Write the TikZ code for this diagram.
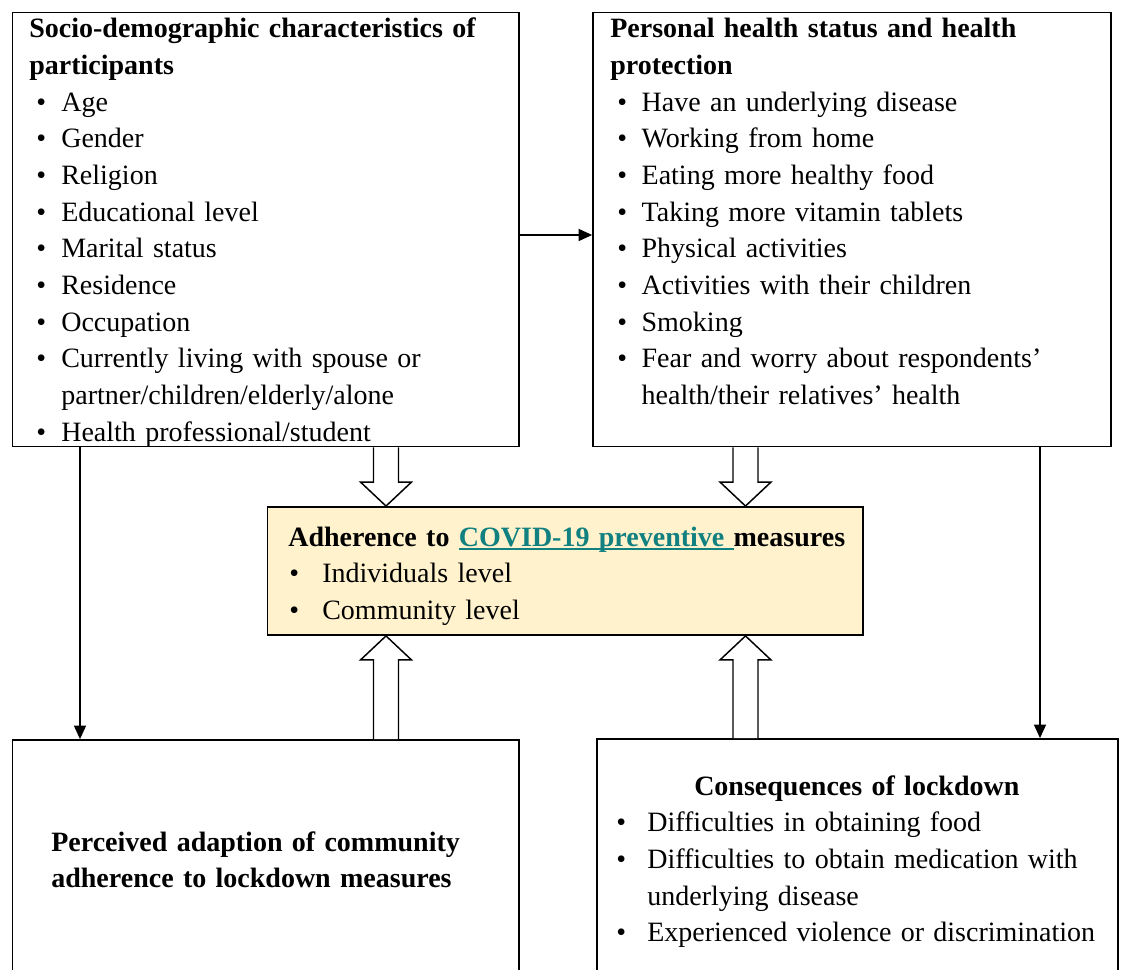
\documentclass[tikz,border=0pt]{standalone}
\usepackage{fontspec}
\setmainfont{Liberation Serif}
\usepackage{xcolor}
\usetikzlibrary{fit,arrows.meta}

\definecolor{notefill}{RGB}{255,242,204}
\definecolor{linkteal}{RGB}{16,128,128}

\newlength\bulx
\newlength\itemx
\newcommand\bitem[1]{\par\noindent\hangindent=\itemx\hangafter=1%
  \makebox[\itemx][l]{\hspace*{\bulx}\textbullet}#1}
\newcommand\linktxt[1]{\textcolor{linkteal}{\setbox0\hbox{#1}%
  \rlap{\rule[-2.6pt]{\wd0}{1pt}}\box0}}

% tail, tip, direction (1 = down, -1 = up)
\newcommand\blockarrow[3]{%
  \draw[hollow] ([shift={(-12.5,0)}]#1) -- ([shift={(-12.5,{-24*#3})}]#2)
    -- ([shift={(-25.5,{-24*#3})}]#2) -- (#2)
    -- ([shift={(25.5,{-24*#3})}]#2) -- ([shift={(12.5,{-24*#3})}]#2)
    -- ([shift={(12.5,0)}]#1);}

\begin{document}
\begin{tikzpicture}[x=0.75pt,y=-0.75pt,
    box/.style={draw, line width=1.4pt, inner sep=0pt},
    txt/.style={inner sep=0pt, anchor=north west, align=left,
      font=\fontsize{21}{27.5}\selectfont},
    thinarrow/.style={draw, line width=0.8pt, -{Triangle[length=10pt,width=9pt]}},
    hollow/.style={draw, line width=1.1pt, fill=white, line join=miter}]

    \useasboundingbox (0,0) rectangle (1121,970);

    \node[box, fit={(12.5,12.5) (519,446.5)}] (A) {};
    \node[box, fit={(593,12.5) (1111,446.5)}] (B) {};
    \node[box, fill=notefill, fit={(267.5,507) (863,635)}] (C) {};
    \node[box, fit={(12.5,740) (519,1000)}] (D) {};
    \node[box, fit={(597,739) (1118,1000)}] (E) {};

    \node[txt, text width=370pt] (Atext) at ([shift={(17.5,0.3)}]A.north west)
    {\setlength\bulx{5.25pt}\setlength\itemx{24pt}%
        \noindent\strut\textbf{Socio-demographic characteristics of}\newline
        \textbf{participants}
        \bitem{Age}
        \bitem{Gender}
        \bitem{Religion}
        \bitem{Educational level}
        \bitem{Marital status}
        \bitem{Residence}
        \bitem{Occupation}
        \bitem{Currently living with spouse or\newline partner/children/elderly/alone}
        \bitem{Health professional/student}\par};

    \node[txt, text width=380pt] (Btext) at ([shift={(18,0.3)}]B.north west)
    {\setlength\bulx{5.25pt}\setlength\itemx{23.5pt}%
        \noindent\strut\textbf{Personal health status and health}\newline
        \textbf{protection}
        \bitem{Have an underlying disease}
        \bitem{Working from home}
        \bitem{Eating more healthy food}
        \bitem{Taking more vitamin tablets}
        \bitem{Physical activities}
        \bitem{Activities with their children}
        \bitem{Smoking}
        \bitem{Fear and worry about respondents’\newline health/their relatives’ health}\par};

    \node[txt, text width=440pt] (Ctext) at ([shift={(21.5,14.3)}]C.north west)
    {\setlength\bulx{0.75pt}\setlength\itemx{25.5pt}%
        \noindent\strut\textbf{Adherence to \linktxt{COVID-19 preventive\ }measures}
        \bitem{Individuals level}
        \bitem{Community level}\par};

    \node[txt, text width=370pt] (Dtext) at ([shift={(39.5,86.3)}]D.north west)
    {\noindent\strut\textbf{Perceived adaption of community}\newline
        \textbf{adherence to lockdown measures}\par};

    \node[txt, text width=360.75pt] (Etext) at ([shift={(20,31)}]E.north west)
    {\setlength\bulx{0pt}\setlength\itemx{23.25pt}%
        \centerline{\strut\textbf{Consequences of lockdown}}
        \bitem{Difficulties in obtaining food}
        \bitem{Difficulties to obtain medication with\newline underlying disease}
        \bitem{Experienced violence or discrimination}\par};

    \path (0,235) coordinate (ymid) (80,0) coordinate (xl) (1040,0) coordinate (xr)
        (386,0) coordinate (xa) (745.5,0) coordinate (xb);

    \draw[thinarrow] (A.east |- ymid) -- (B.west |- ymid);
    \draw[thinarrow] (A.south -| xl) -- (D.north -| xl);
    \draw[thinarrow] (B.south -| xr) -- (E.north -| xr);

    \blockarrow{A.south -| xa}{C.north -| xa}{1}
    \blockarrow{B.south -| xb}{C.north -| xb}{1}
    \blockarrow{D.north -| xa}{C.south -| xa}{-1}
    \blockarrow{E.north -| xb}{C.south -| xb}{-1}

\end{tikzpicture}
\end{document}
